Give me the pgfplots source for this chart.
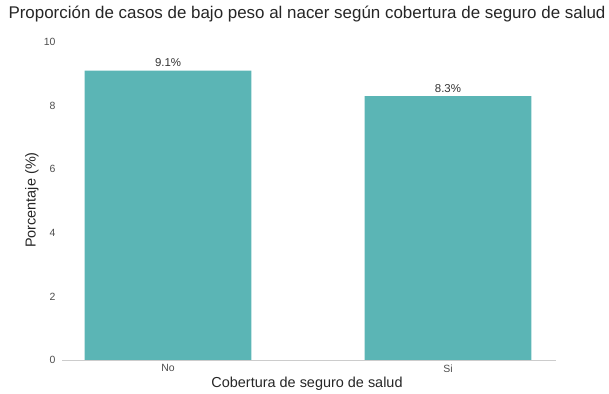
\documentclass[border=0pt]{standalone}
\usepackage{pgfplots}
\pgfplotsset{compat=1.18}
\usepackage{fontspec}
\setmainfont{Liberation Sans}
\definecolor{barc}{HTML}{5BB5B5}
\definecolor{axc}{HTML}{CCCCCC}
\definecolor{tickc}{HTML}{4D4D4D}
\begin{document}
\begin{tikzpicture}
\useasboundingbox (0,0) rectangle (609bp,394bp);
\begin{axis}[
  at={(62bp,34bp)}, anchor=south west,
  scale only axis, width=494bp, height=318bp,
  xmin=-0.379, xmax=1.386, ymin=0, ymax=10,
  xtick=data, xticklabels={No,Si},
  ytick={0,2,4,6,8,10},
  axis x line*=bottom, axis y line*=left,
  x axis line style={draw=axc, line width=0.6pt, -},
  y axis line style={draw=none},
  major tick length=0pt,
  tick label style={font=\fontsize{10.5}{12}\selectfont, text=tickc},
  /pgf/number format/assume math mode=true,
  yticklabel style={xshift=-3bp},
  xticklabel style={yshift=-1bp},
  ybar, bar width=0.596, bar shift=0pt,
  title={Proporción de casos de bajo peso al nacer según cobertura de seguro de salud},
  title style={at={(0.496,1.069)}, anchor=center, font=\fontsize{17}{20}\selectfont, text=black!85},
  xlabel={Cobertura de seguro de salud},
  xlabel style={at={(0.496,-0.075)}, anchor=center, font=\fontsize{14.5}{17}\selectfont, text=black!85},
  ylabel={Porcentaje (\%)},
  ylabel style={at={(-0.061,0.503)}, anchor=center, font=\fontsize{14.5}{17}\selectfont, text=black!85},
  nodes near coords={\pgfmathprintnumber[fixed,precision=1]{\pgfplotspointmeta}\%},
  nodes near coords style={font=\fontsize{11.5}{13}\selectfont, text=black!80, yshift=0bp},
  clip=false,
]
\addplot[fill=barc, draw=none] coordinates {(0,9.1) (1,8.3)};
\end{axis}
\end{tikzpicture}
\end{document}
